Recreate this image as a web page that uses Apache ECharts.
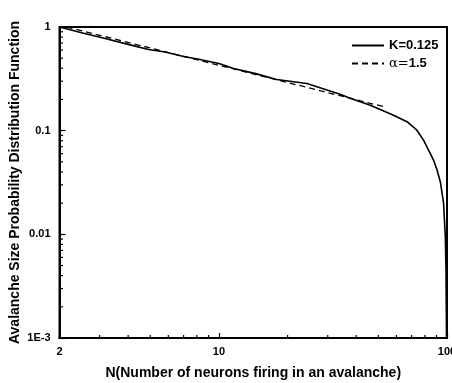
<!DOCTYPE html>
<html>
<head>
<meta charset="utf-8">
<script src="https://cdn.jsdelivr.net/npm/echarts@6/dist/echarts.min.js"></script>
<style>
html,body{margin:0;padding:0;background:#fff;}
#c{width:452px;height:383px;}
</style>
</head>
<body>
<div id="c"></div>
<script>
// Solid curve: K=0.125 (N, P)
const solidN = [2, 2.5, 3.17, 4.0, 4.91, 5.81, 7, 8.27, 10, 11.6, 14.5, 17.9, 24.3, 30, 34, 37.6, 46.1, 58.3, 66.8, 73.8, 78.9, 87.3, 90.4, 93.5, 96.6, 98.3, 99, 99.5];
const solidP = [1, 0.88, 0.773, 0.68, 0.606, 0.574, 0.52, 0.486, 0.444, 0.398, 0.355, 0.312, 0.285, 0.245, 0.225, 0.205, 0.176, 0.141, 0.122, 0.101, 0.081, 0.052, 0.042, 0.032, 0.020, 0.0095, 0.0045, 0.001];
// Dashed power-law fit: alpha=1.5
const dashN = [2.15, 53];
const dashP = [1, 0.17];
// Axis tick values
const xMinorTicks = [3, 4, 5, 6, 7, 8, 9, 20, 30, 40, 50, 60, 70, 80, 90];
const yMinorTicks = [0.002,0.003,0.004,0.005,0.006,0.007,0.008,0.009,0.02,0.03,0.04,0.05,0.06,0.07,0.08,0.09,0.2,0.3,0.4,0.5,0.6,0.7,0.8,0.9];
const seriesNames = ['K=0.125', 'α=1.5'];

const FONT = 'Liberation Sans';
const solidData = solidN.map((n, i) => [n, solidP[i]]);
const dashData = dashN.map((n, i) => [n, dashP[i]]);

const chart = echarts.init(document.getElementById('c'), null, {renderer: 'canvas'});
chart.setOption({
  animation: false,
  backgroundColor: '#fff',
  grid: {left: 59.5, right: 5, top: 27, bottom: 45, containLabel: false, outerBoundsMode: 'none',
         show: true, borderColor: '#000', borderWidth: 2, backgroundColor: 'transparent'},
  legend: {
    data: seriesNames,
    orient: 'vertical',
    left: 346, top: 34,
    itemWidth: 32, itemHeight: 14, itemGap: 5,
    itemStyle: {opacity: 0},
    textStyle: {fontFamily: FONT, fontSize: 13, fontWeight: 'bold', color: '#000',
      rich: {a: {fontFamily: 'DejaVu Serif', fontSize: 13, fontWeight: 'normal', color: '#000'},
             b: {fontFamily: FONT, fontSize: 13, fontWeight: 'bold', color: '#000'}}},
    formatter: function (name) {
      if (name.charAt(0) === 'α') return '{a|α=}{b|' + name.slice(2) + '}';
      return name;
    }
  },
  xAxis: {
    type: 'log', logBase: 10, min: 2, max: 100,
    name: 'N(Number of neurons firing in an avalanche)',
    nameLocation: 'middle', nameGap: 28, nameMoveOverlap: false,
    nameTextStyle: {fontFamily: FONT, fontSize: 14, fontWeight: 'bold', color: '#000', verticalAlign: 'top'},
    axisLine: {show: true, lineStyle: {color: '#000', width: 2}},
    axisTick: {show: true, inside: true, length: 5, lineStyle: {color: '#000', width: 1.2}},
    axisLabel: {fontFamily: FONT, fontSize: 11, fontWeight: 'bold', color: '#000', margin: 8,
      showMinLabel: true, showMaxLabel: true, hideOverlap: false,
      formatter: function (v) { return String(Math.round(v)); }},
    splitLine: {show: false},
    minorTick: {show: false}
  },
  yAxis: {
    type: 'log', logBase: 10, min: 0.001, max: 1,
    name: 'Avalanche Size Probability Distribution Function',
    nameLocation: 'middle', nameGap: 37, nameMoveOverlap: false,
    nameTextStyle: {fontFamily: FONT, fontSize: 14, fontWeight: 'bold', color: '#000'},
    axisLine: {show: true, lineStyle: {color: '#000', width: 2}},
    axisTick: {show: true, inside: true, length: 6, lineStyle: {color: '#000', width: 1.2}},
    axisLabel: {fontFamily: FONT, fontSize: 11, fontWeight: 'bold', color: '#000', margin: 9,
      formatter: function (v) {
        const e = Math.round(Math.log10(v));
        if (e === 0) return '1';
        if (e === -1) return '0.1';
        if (e === -2) return '0.01';
        return '1E-3';
      }},
    splitLine: {show: false}
  },
  series: [
    {name: seriesNames[0], type: 'line', data: solidData, symbol: 'none', smooth: false,
     lineStyle: {color: '#000', width: 1.6}, itemStyle: {color: '#000'}, z: 3},
    {name: seriesNames[1], type: 'line', data: dashData, symbol: 'none',
     lineStyle: {color: '#000', width: 1.3, type: [6, 4]}, itemStyle: {color: '#000'}, z: 2},
    {type: 'custom', silent: true, clip: false, z: 4,
     data: xMinorTicks.map(v => [v, 0.001]),
     renderItem: function (params, api) {
       const p = api.coord([api.value(0), api.value(1)]);
       return {type: 'line', shape: {x1: p[0], y1: p[1], x2: p[0], y2: p[1] - 3},
               style: {stroke: '#000', lineWidth: 1.2}};
     }},
    {type: 'custom', silent: true, clip: false, z: 4,
     data: yMinorTicks.map(v => [2, v]),
     renderItem: function (params, api) {
       const p = api.coord([api.value(0), api.value(1)]);
       return {type: 'line', shape: {x1: p[0], y1: p[1], x2: p[0] + 3.5, y2: p[1]},
               style: {stroke: '#000', lineWidth: 1.2}};
     }}
  ]
});
</script>
</body>
</html>
